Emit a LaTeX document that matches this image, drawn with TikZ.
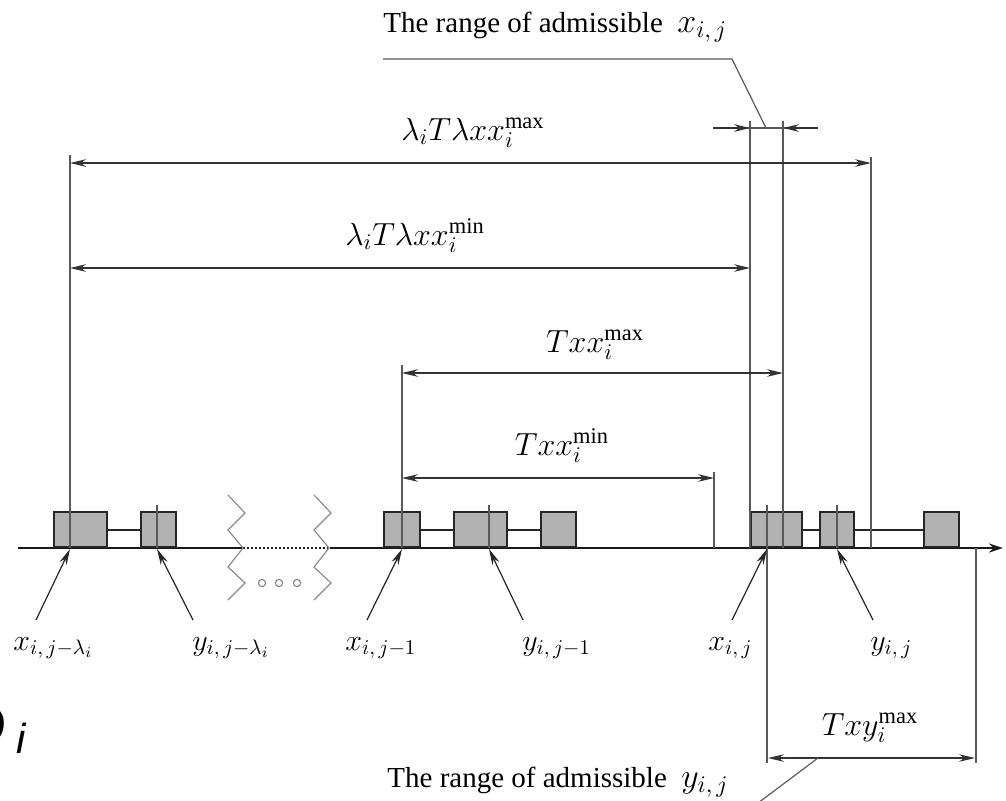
\RequirePackage{fix-cm}
\documentclass[tikz,border=0pt]{standalone}
\usepackage{fontspec}
\setmainfont{Liberation Serif}
\newfontfamily\dfont{Liberation Sans}
\usetikzlibrary{arrows.meta}

\tikzset{
  blk/.style={draw=black!85, line width=1pt, fill=black!30, inner sep=0pt,
    minimum height=17.5pt, anchor=south west},
  axis/.style={black!90, line width=1pt},
  ext/.style={black!65, line width=0.6pt},
  dim/.style={black!80, line width=0.6pt,
    {Stealth[length=8pt,width=3.8pt]}-{Stealth[length=8pt,width=3.8pt]}},
  lead/.style={black!85, line width=0.6pt, -{Stealth[length=8pt,width=3.8pt]}},
  zig/.style={black!45, line width=0.6pt},
  lbl/.style={font=\fontsize{15}{18}\selectfont, inner sep=0pt, anchor=base west},
  dlbl/.style={font=\fontsize{16}{19}\selectfont, inner sep=0pt, anchor=base},
  txt/.style={font=\fontsize{14.5}{17}\selectfont, inner sep=0pt, anchor=base west},
}

\begin{document}
\begin{tikzpicture}[x=0.5pt,y=-0.5pt]
  \useasboundingbox (0,0) rectangle (1006,800);
  % time axis with the break
  \draw[axis] (18,548) -- (243,548);
  \draw[axis, densely dotted, line width=0.8pt] (243,548) -- (330,548);
  \draw[axis, -{Stealth[length=7pt,width=4.5pt]}] (330,548) -- (1003,548);
  \foreach \dx in {0,86}{
    \draw[zig, shift={(\dx,0)}] (228,495) -- (245,513) -- (228,530) -- (243,548)
      -- (228,567) -- (245,583) -- (228,600);
  }
  \foreach \cx in {262,279,297}
    \draw[zig] (\cx,583) circle[radius=1.8pt];
  % blocks on the axis
  \foreach \n/\x/\w in {1/53/53,2/140/35,3/383/36,4/453/53,5/540/35,6/750/51,7/819/34,8/923/35}
    \node[blk, minimum width=\w*0.5pt] (b\n) at (\x,548) {};
  \foreach \a/\b in {b1/b2,b3/b4,b4/b5,b6/b7,b7/b8}
    \draw[black!85, line width=1pt] (\a) -- (\b);
  % extension lines
  \foreach \x/\ya/\yb in {70/155/548,157/505/548,402/365/548,489/505/548,714/472/548,
      750/121/548,783/121/548,871/157/548,767/505/763,837/505/548,976/548/763}
    \draw[ext] (\x,\ya) -- (\x,\yb);
  % dimensions
  \draw[dim] (70,163) -- (871,163);
  \draw[dim] (70,268) -- (750,268);
  \draw[dim] (402,373) -- (783,373);
  \draw[dim] (402,478) -- (714,478);
  \draw[dim] (768,758) -- (975,758);
  \draw[ext] (713,128) -- (818,128);
  \draw[black!80, line width=0.6pt, -{Stealth[length=8pt,width=3.8pt]}] (713,128) -- (750,128);
  \draw[black!80, line width=0.6pt, -{Stealth[length=8pt,width=3.8pt]}] (818,128) -- (783,128);
  \node[dlbl] (lmax) at (473,140) {$\lambda_i T\lambda x x_i^{\mathrm{max}}$};
  \node[dlbl] (lmin) at (415,245) {$\lambda_i T\lambda x x_i^{\mathrm{min}}$};
  \node[dlbl] (tmax) at (595,352) {$Txx_i^{\mathrm{max}}$};
  \node[dlbl] (tmin) at (562,455) {$Txx_i^{\mathrm{min}}$};
  \node[dlbl] (ymax) at (870,735) {$Txy_i^{\mathrm{max}}$};
  % admissible ranges
  \node[txt] (rx) at (383,32) {The range of admissible\enspace{\fontsize{17}{20}\selectfont$x_{i,\,j}$}};
  \node[txt] (ry) at (387,787) {The range of admissible\enspace{\fontsize{17}{20}\selectfont$y_{i,\,j}$}};
  \coordinate (rx1) at (383,59); \coordinate (rx2) at (732,59); \coordinate (rx3) at (766,128);
  \draw[ext] (rx1) -- (rx2) -- (rx3);
  \coordinate (ry1) at (818,758); \coordinate (ry2) at (746,812);
  \draw[ext] (ry1) -- (ry2);
  % event labels
  \node[lbl] (x1) at (13,650) {$x_{i,\,j-\lambda_i}$};
  \node[lbl] (y1) at (192,650) {$y_{i,\,j-\lambda_i}$};
  \node[lbl] (x2) at (345,650) {$x_{i,\,j-1}$};
  \node[lbl] (y2) at (522,650) {$y_{i,\,j-1}$};
  \node[lbl] (x3) at (708,650) {$x_{i,\,j}$};
  \node[lbl] (y3) at (870,650) {$y_{i,\,j}$};
  \foreach \t/\tx/\px in {1/36/70,2/193/157,3/367/402,4/523/489,5/732/767,6/873/837}{
    \coordinate (t\t) at (\tx,620); \coordinate (p\t) at (\px,549);
    \draw[lead] (t\t) -- (p\t);
  }
  \node[font=\dfont\itshape, inner sep=0pt, anchor=base west] (di) at (-39,747)
    {\fontsize{31}{36}\selectfont D\kern5pt\raisebox{-3pt}{\fontsize{21}{24}\selectfont i}};
\end{tikzpicture}
\end{document}
